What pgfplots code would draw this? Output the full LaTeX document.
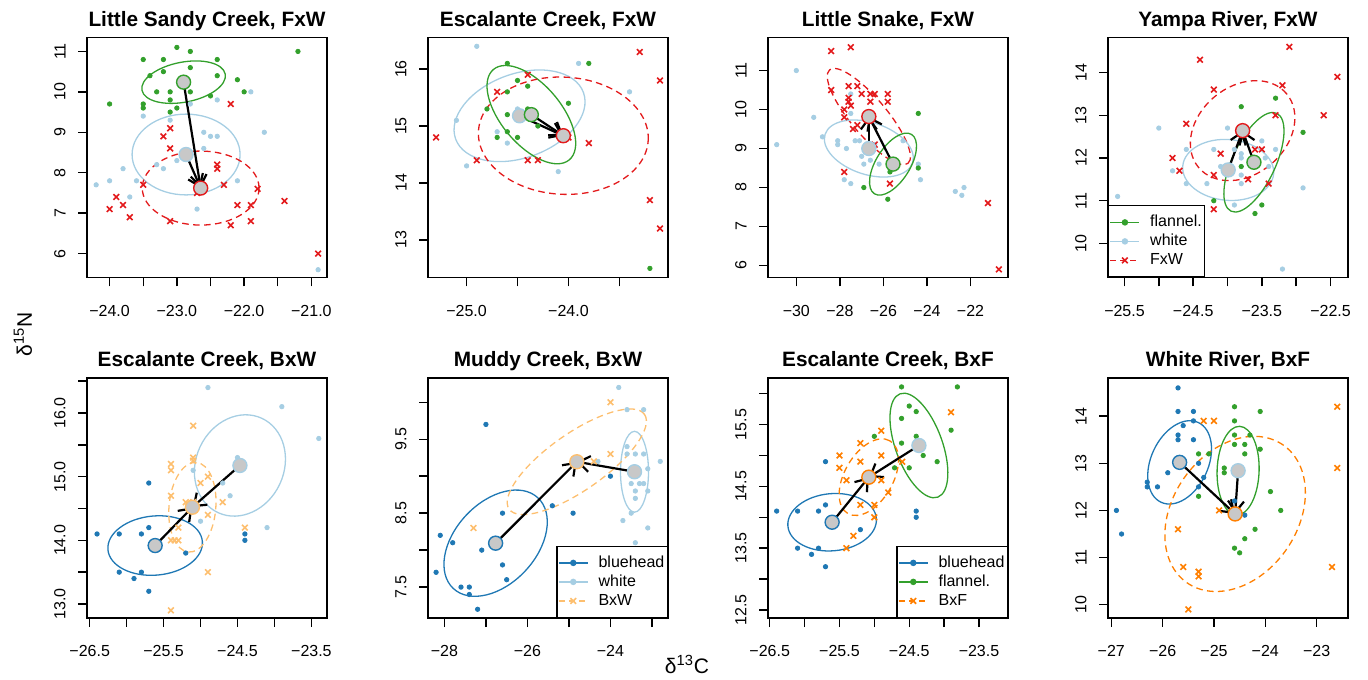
\documentclass[border=0pt]{standalone}
\usepackage{fontspec}
\setmainfont{Liberation Sans}
\usepackage{pgfplots}
\pgfplotsset{compat=1.18}
\usetikzlibrary{arrows.meta}

\definecolor{flan}{HTML}{33A02C}
\definecolor{wht}{HTML}{A6CEE3}
\definecolor{fxw}{HTML}{E31A1C}
\definecolor{blu}{HTML}{1F78B4}
\definecolor{bxw}{HTML}{FDBF6F}
\definecolor{bxf}{HTML}{FF7F00}
\definecolor{meangray}{HTML}{C8C8C8}

% standard ellipse: style, centre x, centre y, semi-axes (pt), angle
\newcommand{\sea}[6]{\draw[#1,line width=0.65pt,rotate around={#6:(axis cs:#2,#3)}] (axis cs:#2,#3) ellipse [x radius=#4pt, y radius=#5pt];}

\pgfplotsset{
  panel/.style={
    scale only axis, width=120pt, height=120pt, anchor=north west,
    axis line style={line width=0.8pt},
    every tick/.style={black, line width=0.7pt},
    major tick length=4.5pt, tick align=outside,
    xtick pos=left, ytick pos=left,
    tick label style={font=\fontsize{8}{9}\selectfont},
    xticklabel style={anchor=north, inner sep=0pt, yshift=-9pt},
    yticklabel style={xshift=-6pt, rotate=90, anchor=south, inner sep=0pt},
    every axis title/.style={font=\bfseries\fontsize{10.4}{12}\selectfont, at={(0.5,1)}, anchor=base, yshift=5.5pt},
    legend cell align=left,
    legend style={draw=black, line width=0.6pt, fill=white, inner xsep=0.5pt, inner ysep=3.5pt,
      row sep=0pt, column sep=4pt, font=\fontsize{8}{9}\selectfont,
      nodes={inner sep=1pt, text height=6pt, text depth=1.5pt}},
  },
  legend image code/.code={\draw[mark repeat=2,mark phase=2,#1] plot coordinates {(0pt,0pt) (7.25pt,0pt) (14.5pt,0pt)};},
  pt/.style={only marks, mark=*, mark size=1.1pt, color=#1, forget plot},
  cx/.style={only marks, mark=x, mark size=2pt, line width=0.8pt, color=#1, forget plot},
  mn/.style={only marks, mark=*, mark size=3.5pt, mark options={fill=meangray, draw=#1, line width=0.7pt}, forget plot},
  arr/.style={forget plot, black, line width=1.1pt, -{Straight Barb[length=5.5pt,width=8pt]}},
}
\tikzset{dsh/.style={dash pattern=on 3.3pt off 2.2pt}}

\begin{document}
\begin{tikzpicture}
\useasboundingbox (0,0) rectangle (684pt,339.5pt);

% ---------- Little Sandy Creek, FxW
\begin{axis}[panel, at={(43.5pt,320.75pt)}, title={Little Sandy Creek, FxW},
  xmin=-24.336, xmax=-20.768, ymin=5.408, ymax=11.345,
  xtick={-24,-23.5,...,-21}, xticklabels={−24.0,,−23.0,,−22.0,,−21.0},
  ytick={6,...,11}, yticklabels={6,7,8,9,10,11}]
\addplot[pt=wht] coordinates {(-21.9,10.0) (-22.4,9.8) (-22.8,9.7) (-23.5,9.4) (-23.1,9.3) (-22.6,9.0) (-22.5,8.9) (-22.4,8.9) (-21.7,9.0) (-22.6,8.6) (-23.3,8.2) (-23.2,8.1) (-23.0,8.3) (-23.8,8.1) (-24.0,7.8) (-23.6,7.8) (-24.2,7.7) (-23.7,7.4) (-22.1,7.8) (-22.7,7.1) (-20.9,5.6) (-22.8,8.5) (-22.9,8.4)};
\addplot[pt=flan] coordinates {(-23.0,11.1) (-22.8,11.0) (-23.5,10.8) (-23.2,10.8) (-22.4,10.8) (-21.2,11.0) (-23.4,10.4) (-23.2,10.5) (-22.8,10.6) (-22.4,10.4) (-22.1,10.3) (-23.3,10.0) (-23.1,10.0) (-22.8,10.0) (-22.0,10.0) (-22.5,9.9) (-23.1,9.8) (-24.0,9.7) (-23.5,9.7) (-23.5,9.6) (-23.0,9.6) (-23.1,9.5)};
\addplot[cx=fxw] coordinates {(-22.2,9.7) (-23.1,9.1) (-23.2,8.9) (-23.1,8.6) (-22.4,8.2) (-22.4,8.1) (-23.5,7.7) (-22.3,7.7) (-21.8,7.6) (-23.9,7.4) (-23.8,7.2) (-24.0,7.1) (-23.7,6.9) (-23.1,6.8) (-22.1,7.2) (-21.9,7.2) (-21.9,6.8) (-22.2,6.7) (-21.4,7.3) (-22.7,7.5) (-20.9,6.0)};
\sea{flan}{-22.90}{10.24}{21.2}{10}{11}
\sea{wht}{-22.863}{8.45}{27}{20.2}{0}
\sea{fxw,dsh}{-22.646}{7.62}{29.2}{18.5}{0}
\addplot[mn=flan] coordinates {(-22.90,10.24)};
\addplot[mn=wht] coordinates {(-22.863,8.45)};
\addplot[mn=fxw] coordinates {(-22.646,7.62)};
\addplot[arr] coordinates {(-22.90,10.24) (-22.646,7.62)};
\addplot[arr] coordinates {(-22.863,8.45) (-22.646,7.62)};
\end{axis}

% ---------- Escalante Creek, FxW
\begin{axis}[panel, at={(214pt,320.75pt)}, title={Escalante Creek, FxW},
  xmin=-25.379, xmax=-23.022, ymin=12.340, ymax=16.555,
  xtick={-25,-24.5,-24,-23.5}, xticklabels={−25.0,,−24.0,},
  ytick={13,14,15,16}, yticklabels={13,14,15,16}]
\addplot[pt=wht] coordinates {(-24.9,16.4) (-23.9,16.1) (-23.4,15.6) (-25.1,15.1) (-24.7,14.9) (-24.6,14.7) (-25.0,14.3) (-24.1,14.2) (-24.5,15.3) (-24.4,15.2)};
\addplot[pt=flan] coordinates {(-24.6,16.1) (-23.8,16.1) (-24.5,15.8) (-24.4,15.7) (-24.6,15.6) (-24.8,15.3) (-24.4,15.3) (-24.0,15.4) (-24.6,15.2) (-24.3,15.0) (-24.7,14.8) (-24.6,14.9) (-24.5,14.8) (-23.2,12.5)};
\addplot[cx=fxw] coordinates {(-23.3,16.3) (-23.1,15.8) (-24.4,15.9) (-24.7,15.6) (-25.3,14.8) (-24.9,14.4) (-24.4,14.4) (-24.3,14.4) (-23.8,14.7) (-23.2,13.7) (-23.1,13.2) (-24.0,14.8)};
\sea{wht}{-24.48}{15.18}{34}{21}{20}
\sea{flan}{-24.364}{15.20}{29.5}{15}{-50}
\sea{fxw,dsh}{-24.05}{14.83}{42.5}{29.3}{-3}
\addplot[mn=wht] coordinates {(-24.48,15.18)};
\addplot[mn=flan] coordinates {(-24.364,15.20)};
\addplot[mn=fxw] coordinates {(-24.05,14.83)};
\addplot[arr] coordinates {(-24.48,15.18) (-24.05,14.83)};
\addplot[arr] coordinates {(-24.364,15.20) (-24.05,14.83)};
\end{axis}

% ---------- Little Snake, FxW
\begin{axis}[panel, at={(384pt,320.75pt)}, title={Little Snake, FxW},
  xmin=-31.30, xmax=-20.28, ymin=5.692, ymax=11.848,
  xtick={-30,-28,...,-22}, xticklabels={−30,−28,−26,−24,−22},
  ytick={6,...,11}, yticklabels={6,7,8,9,10,11}]
\addplot[pt=wht] coordinates {(-30.0,11.0) (-30.9,9.1) (-29.2,9.8) (-28.8,9.3) (-28.1,9.2) (-28.1,9.1) (-27.7,9.0) (-27.3,9.2) (-27.1,9.2) (-26.9,9.0) (-27.0,8.8) (-26.9,8.6) (-27.8,8.2) (-27.5,8.1) (-26.6,8.7) (-26.4,9.1) (-26.2,8.6) (-25.1,9.2) (-24.4,8.6) (-24.3,8.2) (-22.7,7.9) (-22.4,7.8) (-22.3,8.0) (-27.5,10.4) (-27.5,9.9) (-26.8,8.9)};
\addplot[pt=flan] coordinates {(-24.4,9.9) (-24.4,8.5) (-26.9,8.0) (-25.8,7.7) (-25.7,8.4)};
\addplot[cx=fxw] coordinates {(-28.4,11.5) (-27.5,11.6) (-28.4,10.5) (-27.6,10.6) (-27.2,10.6) (-27.0,10.4) (-26.6,10.4) (-26.4,10.4) (-25.8,10.4) (-26.6,10.2) (-25.8,10.2) (-27.6,10.3) (-27.6,10.2) (-27.5,10.1) (-27.8,10.0) (-27.8,9.8) (-27.2,9.6) (-27.4,9.5) (-26.4,9.1) (-27.8,8.4) (-25.7,8.1) (-21.2,7.6) (-20.7,5.9)};
\sea{fxw,dsh}{-26.67}{9.82}{30.5}{9}{-50}
\sea{wht}{-26.67}{9.0}{23}{13}{-18}
\sea{flan}{-25.56}{8.60}{17.5}{8.5}{58}
\addplot[mn=fxw] coordinates {(-26.67,9.82)};
\addplot[mn=wht] coordinates {(-26.67,9.0)};
\addplot[mn=flan] coordinates {(-25.56,8.60)};
\addplot[arr] coordinates {(-26.67,9.0) (-26.67,9.82)};
\addplot[arr] coordinates {(-25.56,8.60) (-26.67,9.82)};
\end{axis}

% ---------- Yampa River, FxW
\begin{axis}[panel, at={(554pt,320.75pt)}, title={Yampa River, FxW},
  xmin=-25.74, xmax=-22.245, ymin=9.203, ymax=14.82,
  xtick={-25.5,-25,...,-22.5}, xticklabels={−25.5,,−24.5,,−23.5,,−22.5},
  ytick={10,...,14}, yticklabels={10,11,12,13,14},
  legend style={at={(0,0)}, anchor=south west}]
\addplot[pt=wht] coordinates {(-25.6,11.1) (-25.0,12.7) (-24.8,11.7) (-24.6,12.2) (-24.6,11.4) (-24.3,11.4) (-24.2,12.2) (-24.1,11.8) (-24.0,12.7) (-23.9,12.2) (-23.8,12.1) (-23.8,12.0) (-23.8,11.6) (-23.8,11.4) (-23.5,12.4) (-23.45,12.0) (-23.4,11.8) (-23.3,12.2) (-22.9,11.3) (-23.2,9.4) (-23.9,10.9)};
\addplot[pt=flan] coordinates {(-23.8,13.2) (-23.3,13.4) (-22.9,12.6) (-23.8,11.8) (-24.2,11.0) (-23.5,10.9) (-23.6,10.7)};
\addplot[cx=fxw] coordinates {(-24.4,14.3) (-23.1,14.6) (-22.4,13.9) (-23.2,13.7) (-24.2,13.6) (-23.3,13.0) (-22.6,13.0) (-24.6,12.8) (-24.8,12.0) (-24.7,11.7) (-24.1,12.1) (-24.2,11.6) (-23.6,12.2) (-23.5,12.2) (-23.7,11.5) (-23.4,11.4) (-24.2,10.8)};
\sea{fxw,dsh}{-23.78}{12.64}{28.7}{22}{40}
\sea{wht}{-23.99}{11.72}{22.8}{15.2}{-5}
\sea{flan}{-23.615}{11.90}{27}{10.8}{65}
\addplot[mn=fxw] coordinates {(-23.78,12.64)};
\addplot[mn=wht] coordinates {(-23.99,11.72)};
\addplot[mn=flan] coordinates {(-23.615,11.90)};
\addplot[arr] coordinates {(-23.99,11.72) (-23.78,12.64)};
\addplot[arr] coordinates {(-23.615,11.90) (-23.78,12.64)};
\addlegendimage{flan, line width=0.8pt, mark=*, mark size=1.2pt}
\addlegendentry{flannel.}
\addlegendimage{wht, line width=0.8pt, mark=*, mark size=1.2pt}
\addlegendentry{white}
\addlegendimage{fxw, line width=0.8pt, dash pattern=on 3pt off 2pt, mark=x, mark size=2pt, mark options={solid}}
\addlegendentry{FxW}
\end{axis}

% ---------- Escalante Creek, BxW
\begin{axis}[panel, at={(43.5pt,150.5pt)}, title={Escalante Creek, BxW},
  xmin=-26.536, xmax=-23.289, ymin=12.78, ymax=16.55,
  xtick={-26.5,-26,...,-23.5}, xticklabels={−26.5,,−25.5,,−24.5,,−23.5},
  ytick={13,13.5,...,16.5}, yticklabels={13.0,,14.0,,15.0,,16.0,}]
\addplot[pt=blu] coordinates {(-26.4,14.1) (-26.1,14.1) (-25.8,14.1) (-25.7,14.2) (-25.7,14.9) (-26.1,13.5) (-25.8,13.5) (-25.9,13.4) (-25.7,13.2) (-25.2,13.8) (-24.4,14.1) (-24.4,14.0)};
\addplot[pt=wht] coordinates {(-24.9,16.4) (-23.9,16.1) (-23.4,15.6) (-24.5,15.3) (-25.1,15.1) (-24.7,14.9) (-24.6,14.7) (-25.0,14.3) (-24.1,14.2)};
\addplot[cx=bxw] coordinates {(-25.1,15.8) (-25.1,15.3) (-25.1,15.25) (-25.4,15.2) (-25.4,15.1) (-24.9,15.0) (-25.0,14.9) (-25.4,14.7) (-24.7,14.6) (-25.2,14.6) (-25.1,14.6) (-24.9,14.4) (-25.3,14.2) (-25.4,14.0) (-25.3,14.0) (-25.35,14.0) (-24.4,14.2) (-24.9,13.5) (-25.4,12.9)};
\sea{blu}{-25.614}{13.918}{23.7}{14.8}{5}
\sea{wht}{-24.467}{15.176}{26}{22}{65}
\sea{bxw,dsh}{-25.11}{14.52}{22.5}{11.7}{85}
\addplot[mn=blu] coordinates {(-25.614,13.918)};
\addplot[mn=wht] coordinates {(-24.467,15.176)};
\addplot[mn=bxw] coordinates {(-25.11,14.52)};
\addplot[arr] coordinates {(-25.614,13.918) (-25.11,14.52)};
\addplot[arr] coordinates {(-24.467,15.176) (-25.11,14.52)};
\end{axis}

% ---------- Muddy Creek, BxW
\begin{axis}[panel, at={(214pt,150.5pt)}, title={Muddy Creek, BxW},
  xmin=-28.395, xmax=-22.613, ymin=7.082, ymax=10.328,
  xtick={-28,...,-23}, xticklabels={−28,,−26,,−24,},
  ytick={7.5,8,...,10}, yticklabels={7.5,,8.5,,9.5,},
  legend style={at={(1,0)}, anchor=south east}]
\addplot[pt=blu] coordinates {(-27.0,9.7) (-28.1,8.2) (-27.8,8.1) (-28.2,7.7) (-27.6,7.5) (-27.4,7.5) (-27.4,7.4) (-27.2,7.2) (-27.1,8.0) (-26.6,8.5) (-26.6,7.8) (-26.5,7.6) (-25.4,8.6) (-24.9,8.5) (-24.0,9.0)};
\addplot[pt=wht] coordinates {(-23.8,10.2) (-23.6,9.9) (-23.2,9.9) (-23.6,9.4) (-23.6,9.3) (-23.4,9.3) (-23.2,9.3) (-24.3,9.2) (-22.8,9.2) (-23.1,9.1) (-23.3,8.9) (-23.2,8.9) (-23.5,8.9) (-23.4,8.8) (-23.1,8.8) (-23.4,8.7) (-23.5,8.5) (-23.7,8.4) (-23.1,8.3) (-23.4,8.1)};
\addplot[cx=bxw] coordinates {(-24.0,10.0) (-24.0,9.3) (-24.4,9.2) (-27.3,8.3) (-24.8,9.15)};
\sea{blu}{-26.766}{8.094}{31}{20.3}{47}
\sea{wht}{-23.42}{9.06}{20.2}{7}{90}
\sea{bxw,dsh}{-24.81}{9.195}{41.3}{14.2}{35}
\addplot[mn=blu] coordinates {(-26.766,8.094)};
\addplot[mn=wht] coordinates {(-23.42,9.06)};
\addplot[mn=bxw] coordinates {(-24.81,9.195)};
\addplot[arr] coordinates {(-26.766,8.094) (-24.81,9.195)};
\addplot[arr] coordinates {(-23.42,9.06) (-24.81,9.195)};
\addlegendimage{blu, line width=0.8pt, mark=*, mark size=1.2pt}
\addlegendentry{bluehead}
\addlegendimage{wht, line width=0.8pt, mark=*, mark size=1.2pt}
\addlegendentry{white}
\addlegendimage{bxw, line width=0.8pt, dash pattern=on 3pt off 2pt, mark=x, mark size=2pt, mark options={solid}}
\addlegendentry{BxW}
\end{axis}

% ---------- Escalante Creek, BxF
\begin{axis}[panel, at={(384pt,150.5pt)}, title={Escalante Creek, BxF},
  xmin=-26.524, xmax=-23.084, ymin=12.37, ymax=16.254,
  xtick={-26.5,-26,...,-23.5}, xticklabels={−26.5,,−25.5,,−24.5,,−23.5},
  ytick={12.5,13,...,16}, yticklabels={12.5,,13.5,,14.5,,15.5,},
  legend style={at={(1,0)}, anchor=south east}]
\addplot[pt=blu] coordinates {(-26.4,14.1) (-26.1,14.1) (-25.8,14.1) (-25.7,14.2) (-25.7,14.9) (-26.1,13.5) (-25.8,13.5) (-25.9,13.4) (-25.7,13.2) (-25.2,13.8) (-24.4,14.1) (-24.4,14.0)};
\addplot[pt=flan] coordinates {(-24.61,16.11) (-23.81,16.11) (-24.5,15.8) (-24.4,15.71) (-24.61,15.6) (-23.9,15.41) (-25.0,15.31) (-24.61,15.2) (-24.4,15.31) (-24.3,15.0) (-24.1,14.9) (-24.71,14.8) (-24.5,14.8) (-23.21,12.5)};
\addplot[cx=bxf] coordinates {(-23.9,15.7) (-24.9,15.4) (-25.2,15.2) (-25.5,15.0) (-24.9,15.0) (-25.2,14.9) (-25.5,14.8) (-25.4,14.6) (-24.9,14.6) (-24.6,14.9) (-24.8,14.4) (-25.2,14.2) (-25.0,14.2) (-25.0,14.0) (-25.3,13.7) (-25.4,13.5)};
\sea{blu}{-25.605}{13.92}{22.2}{14.3}{5}
\sea{flan}{-24.361}{15.162}{27.5}{11.7}{110}
\sea{bxf,dsh}{-25.079}{14.649}{21}{12.1}{60}
\addplot[mn=blu] coordinates {(-25.605,13.92)};
\addplot[mn=wht] coordinates {(-24.361,15.162)};
\addplot[mn=bxf] coordinates {(-25.079,14.649)};
\addplot[arr] coordinates {(-25.605,13.92) (-25.079,14.649)};
\addplot[arr] coordinates {(-24.361,15.162) (-25.079,14.649)};
\addlegendimage{blu, line width=0.8pt, mark=*, mark size=1.2pt}
\addlegendentry{bluehead}
\addlegendimage{flan, line width=0.8pt, mark=*, mark size=1.2pt}
\addlegendentry{flannel.}
\addlegendimage{bxf, line width=0.8pt, dash pattern=on 3pt off 2pt, mark=x, mark size=2pt, mark options={solid}}
\addlegendentry{BxF}
\end{axis}

% ---------- White River, BxF
\begin{axis}[panel, at={(554pt,150.5pt)}, title={White River, BxF},
  xmin=-27.064, xmax=-22.389, ymin=9.718, ymax=14.81,
  xtick={-27,...,-23}, xticklabels={−27,−26,−25,−24,−23},
  ytick={10,...,14}, yticklabels={10,11,12,13,14}]
\addplot[pt=blu] coordinates {(-25.7,14.6) (-25.7,14.1) (-25.4,14.1) (-25.4,13.9) (-25.6,13.8) (-25.7,13.6) (-25.7,13.5) (-25.4,13.5) (-25.3,13.0) (-26.3,12.6) (-26.3,12.5) (-26.1,12.5) (-25.9,12.8) (-25.2,12.7) (-25.3,12.5) (-26.9,12.0) (-26.8,11.5) (-24.6,12.2) (-24.4,11.9)};
\addplot[pt=flan] coordinates {(-24.6,14.2) (-24.1,14.1) (-24.6,13.9) (-24.6,13.6) (-24.3,13.6) (-24.6,13.4) (-24.4,13.4) (-24.1,13.3) (-25.3,13.2) (-25.1,13.2) (-24.4,13.2) (-24.8,12.9) (-24.8,12.8) (-24.6,12.8) (-25.3,12.3) (-23.9,12.4) (-23.7,12.0) (-24.2,11.6) (-24.4,11.4) (-24.6,11.2) (-24.5,11.1)};
\addplot[cx=bxf] coordinates {(-25.2,13.9) (-25.0,13.9) (-22.6,14.2) (-22.6,12.9) (-24.9,12.0) (-25.7,11.6) (-25.6,10.8) (-25.3,10.7) (-25.3,10.6) (-25.5,9.9) (-22.7,10.8)};
\sea{blu}{-25.669}{13.02}{22}{14.3}{65}
\sea{flan}{-24.53}{12.843}{22.2}{10.5}{88}
\sea{bxf,dsh}{-24.588}{11.926}{42}{31.2}{55}
\addplot[mn=blu] coordinates {(-25.669,13.02)};
\addplot[mn=wht] coordinates {(-24.53,12.843)};
\addplot[mn=bxf] coordinates {(-24.588,11.926)};
\addplot[arr] coordinates {(-25.669,13.02) (-24.588,11.926)};
\addplot[arr] coordinates {(-24.53,12.843) (-24.588,11.926)};
\end{axis}

\node[rotate=90, font=\fontsize{10.5}{12}\selectfont] at (11.5pt,172.5pt) {δ\textsuperscript{15}N};
\node[font=\fontsize{10.5}{12}\selectfont] at (343.5pt,7.5pt) {δ\textsuperscript{13}C};
\end{tikzpicture}
\end{document}
